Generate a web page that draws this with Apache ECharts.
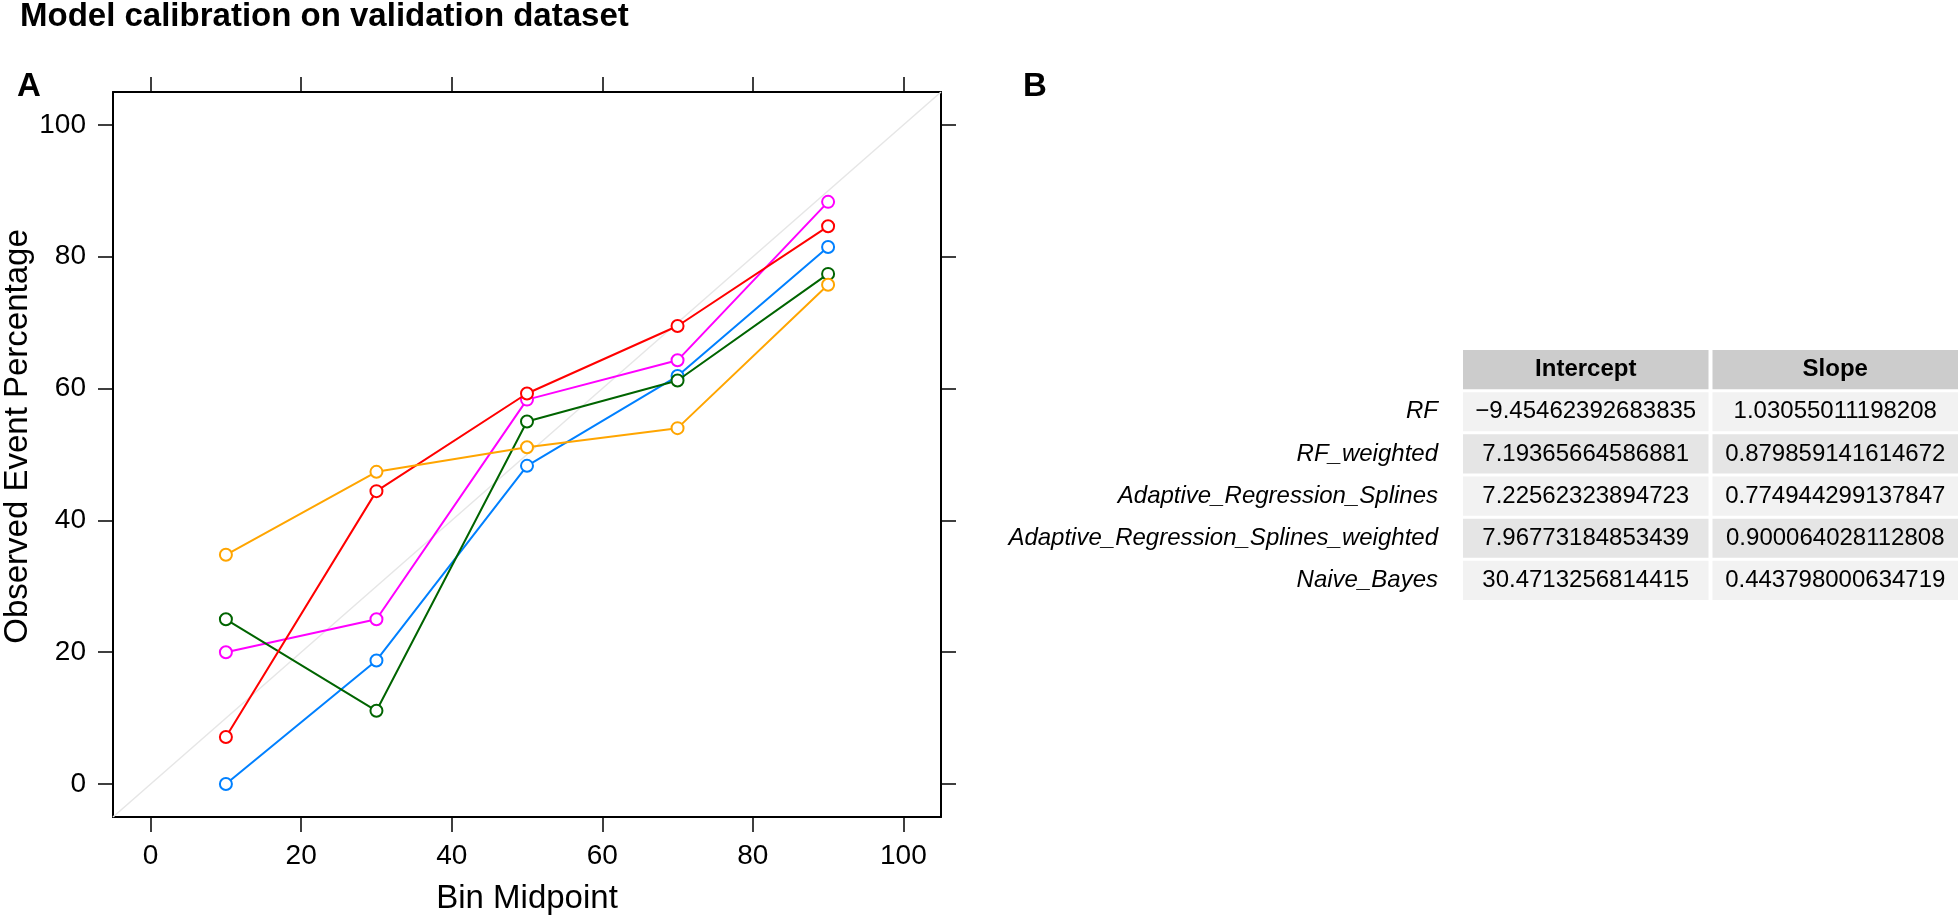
<!DOCTYPE html>
<html><head><meta charset="utf-8">
<script src="https://cdn.jsdelivr.net/npm/echarts@6/dist/echarts.min.js"></script>
<style>html,body{margin:0;padding:0;background:#fff}#c{width:1960px;height:920px}</style>
</head><body><div id="c"></div>
<script>
// ---- data ----
const binMidpoints = [10, 30, 50, 70, 90];
const models = ['RF', 'RF_weighted', 'Adaptive_Regression_Splines', 'Adaptive_Regression_Splines_weighted', 'Naive_Bayes'];
const modelColors = ['#0080ff', '#ff00ff', '#006400', '#ff0000', '#ffa500'];
const rfObserved = [0, 18.75, 48.28, 61.9, 81.48];
const rfWeightedObserved = [20, 25, 58.33, 64.29, 88.33];
const arsObserved = [25, 11.11, 55, 61.22, 77.4];
const arsWeightedObserved = [7.14, 44.44, 59.26, 69.5, 84.62];
const naiveBayesObserved = [34.78, 47.37, 51.11, 54, 75.76];
const observedByModel = [rfObserved, rfWeightedObserved, arsObserved, arsWeightedObserved, naiveBayesObserved];
const axisTickValues = [0, 20, 40, 60, 80, 100];
const axisRange = [-5, 105];
const tableColumns = ['Intercept', 'Slope'];
const intercepts = [-9.45462392683835, 7.19365664586881, 7.22562323894723, 7.96773184853439, 30.4713256814415];
const slopes = [1.03055011198208, 0.879859141614672, 0.774944299137847, 0.900064028112808, 0.443798000634719];

// ---- chart ----
const FONT = '"Liberation Sans", Arial, Helvetica, sans-serif';
const fmt = v => String(v).replace('-', '\u2212');

const tableRows = [''].concat(models);
const tableData = [];
for (let r = 0; r < tableRows.length; r++) {
  for (let c = 0; c < tableColumns.length; c++) {
    const label = r === 0 ? tableColumns[c] : fmt(c === 0 ? intercepts[r - 1] : slopes[r - 1]);
    tableData.push([c, r, label]);
  }
}

const blackLine = { show: true, onZero: false, lineStyle: { color: '#000', width: 2 } };
const tickStyle = (len) => ({ show: true, length: len, customValues: axisTickValues, lineStyle: { color: '#000', width: 1.5 } });

const series = [{
  type: 'line', xAxisIndex: 0, yAxisIndex: 0, silent: true, symbol: 'none', z: 1,
  data: [[axisRange[0], axisRange[0]], [axisRange[1], axisRange[1]]],
  lineStyle: { color: '#e6e6e6', width: 1.5 }
}];
models.forEach((m, i) => {
  series.push({
    name: m, type: 'line', xAxisIndex: 0, yAxisIndex: 0, z: 2 + i,
    data: binMidpoints.map((x, k) => [x, observedByModel[i][k]]),
    symbol: 'emptyCircle', symbolSize: 12, showAllSymbol: true,
    lineStyle: { color: modelColors[i], width: 2 },
    itemStyle: { color: modelColors[i], borderColor: modelColors[i], borderWidth: 1.8 },
    emphasis: { disabled: true }
  });
});
series.push({
  type: 'custom', xAxisIndex: 2, yAxisIndex: 2, silent: true,
  data: tableData,
  encode: { x: 0, y: 1 },
  renderItem: function (params, api) {
    const c = api.value(0), r = api.value(1);
    const label = tableData[params.dataIndex][2];
    const pt = api.coord([c, r]);
    const sz = api.size([1, 1]);
    const w = sz[0] - 4, h = sz[1] - 3;
    const fill = r === 0 ? '#cccccc' : (r % 2 === 1 ? '#f2f2f2' : '#e5e5e5');
    return {
      type: 'group',
      children: [
        { type: 'rect', shape: { x: pt[0] - w / 2, y: pt[1] - h / 2, width: w, height: h }, style: { fill: fill } },
        { type: 'text', style: { text: label, x: pt[0], y: pt[1], align: 'center', verticalAlign: 'middle',
          fontSize: 24, fontFamily: FONT, fontWeight: r === 0 ? 'bold' : 'normal', fill: '#000' } }
      ]
    };
  }
});

const option = {
  backgroundColor: '#fff',
  animation: false,
  title: [
    { text: 'Model calibration on validation dataset', left: 20, top: 0, padding: 0,
      textStyle: { fontSize: 33, fontWeight: 'bold', fontFamily: FONT, color: '#000' } },
    { text: 'A', left: 17, top: 70, padding: 0, textStyle: { fontSize: 33, fontWeight: 'bold', fontFamily: FONT, color: '#000' } },
    { text: 'B', left: 1023, top: 70, padding: 0, textStyle: { fontSize: 33, fontWeight: 'bold', fontFamily: FONT, color: '#000' } }
  ],
  grid: [
    { left: 113, top: 92, width: 828, height: 727 },
    { left: 1461, top: 348.5, width: 500, height: 253 }
  ],
  xAxis: [
    { gridIndex: 0, type: 'value', min: axisRange[0], max: axisRange[1], position: 'bottom',
      axisLine: blackLine, axisTick: tickStyle(15), splitLine: { show: false },
      axisLabel: { customValues: axisTickValues, fontSize: 28, color: '#000', fontFamily: FONT, margin: 25 },
      name: 'Bin Midpoint', nameLocation: 'middle', nameGap: 65,
      nameTextStyle: { fontSize: 33, color: '#000', fontFamily: FONT } },
    { gridIndex: 0, type: 'value', min: axisRange[0], max: axisRange[1], position: 'top',
      axisLine: blackLine, axisTick: tickStyle(15), splitLine: { show: false }, axisLabel: { show: false } },
    { gridIndex: 1, type: 'category', data: tableColumns, show: true,
      axisLine: { show: false }, axisTick: { show: false }, axisLabel: { show: false }, splitLine: { show: false } }
  ],
  yAxis: [
    { gridIndex: 0, type: 'value', min: axisRange[0], max: axisRange[1], position: 'left',
      axisLine: blackLine, axisTick: tickStyle(15), splitLine: { show: false },
      axisLabel: { customValues: axisTickValues, fontSize: 28, color: '#000', fontFamily: FONT, margin: 27 },
      name: 'Observed Event Percentage', nameLocation: 'middle', nameGap: 79,
      nameTextStyle: { fontSize: 33, color: '#000', fontFamily: FONT, padding: [0, 0, 0, 36] } },
    { gridIndex: 0, type: 'value', min: axisRange[0], max: axisRange[1], position: 'right',
      axisLine: blackLine, axisTick: tickStyle(15), splitLine: { show: false }, axisLabel: { show: false } },
    { gridIndex: 1, type: 'category', data: tableRows, inverse: true,
      axisLine: { show: false }, axisTick: { show: false }, splitLine: { show: false },
      axisLabel: { fontSize: 24, fontStyle: 'italic', color: '#000', fontFamily: FONT, margin: 23 } }
  ],
  series: series
};

const chart = echarts.init(document.getElementById('c'), null, { renderer: 'canvas' });
chart.setOption(option);
</script>
</body></html>
